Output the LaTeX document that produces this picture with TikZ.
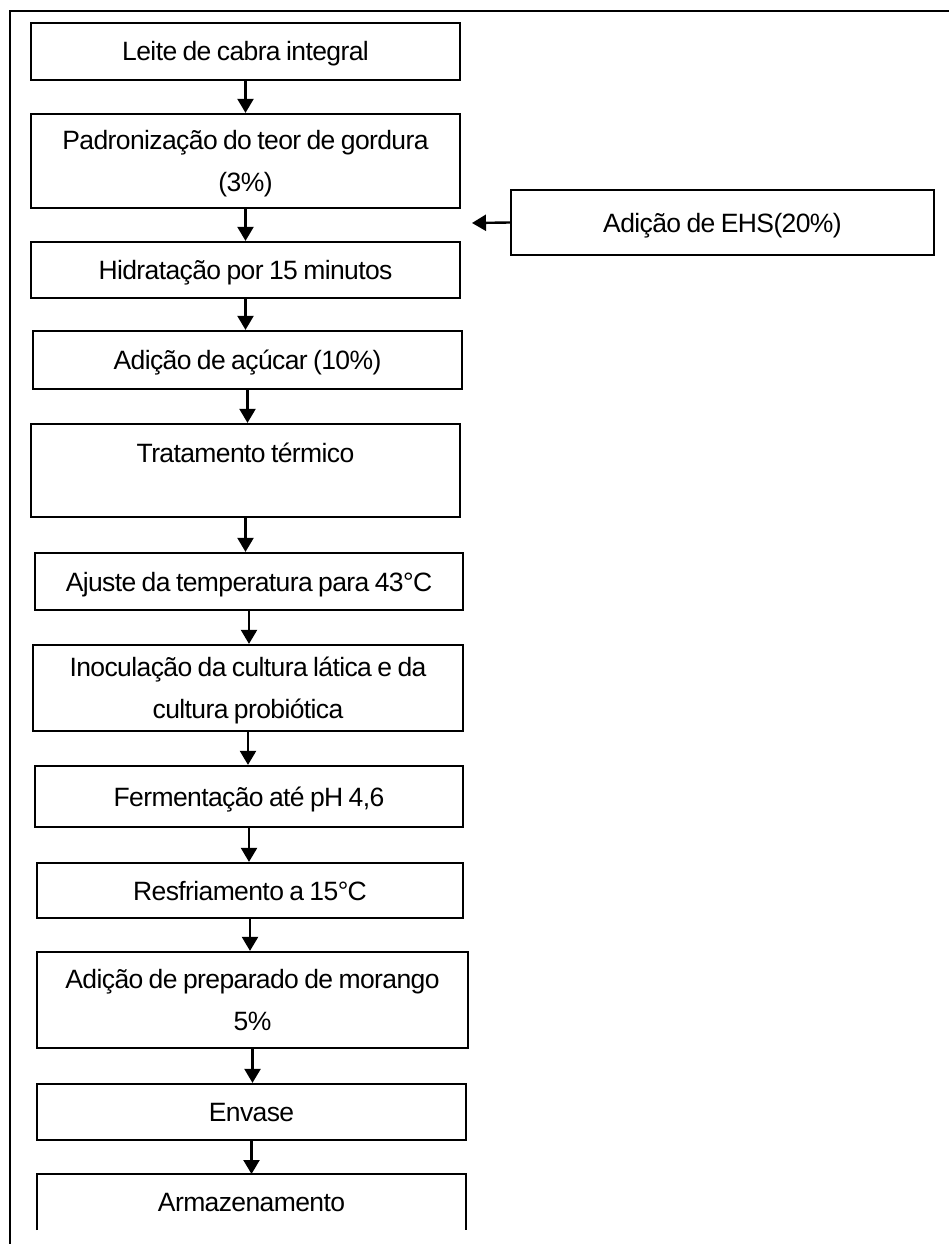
\documentclass[tikz,border=0pt]{standalone}
\usepackage{fontspec}
\setmainfont{Liberation Sans}[LetterSpace=-2.3,WordSpace=0.8]
\usetikzlibrary{arrows.meta,positioning}

\begin{document}
\begin{tikzpicture}[x=1pt,y=-1pt]
    \tikzstyle{etapa}=[rectangle,draw,line width=2.3pt,inner sep=0pt,text height=19pt,text depth=0pt,align=flush center,text width=400pt,font=\fontsize{26.5}{42}\selectfont]
    \tikzstyle{duas}=[etapa,text depth=42pt]
    \tikzstyle{seta}=[line width=2.4pt,-{Triangle[length=14pt,width=16pt]}]
    \useasboundingbox (0,0) rectangle (949,1244);
    \draw[line width=2.2pt] (10,1244) -- (10,11) -- (949,11);
    \node[etapa,minimum width=429pt,minimum height=57pt] (leite) at (245.5,51.5) {Leite de cabra integral};
    \node[duas,minimum width=429pt,minimum height=94pt] (padr) at (245.5,161) {Padronização do teor de gordura\\(3\%)};
    \node[etapa,minimum width=429pt,minimum height=56pt] (hidr) at (245.5,270) {Hidratação por 15 minutos};
    \node[etapa,minimum width=429pt,minimum height=58pt] (acucar) at (247.5,360) {Adição de açúcar (10\%)};
    \node[etapa,text depth=35pt,minimum width=429pt,minimum height=93pt] (trat) at (245.5,470.5) {Tratamento térmico};
    \node[etapa,minimum width=428pt,minimum height=57pt] (ajuste) at (249,581.5) {Ajuste da temperatura para 43°C};
    \node[duas,minimum width=430pt,minimum height=86pt] (inoc) at (248,688) {Inoculação da cultura lática e da\\cultura probiótica};
    \node[etapa,minimum width=428pt,minimum height=61pt] (ferm) at (249,796.5) {Fermentação até pH 4,6};
    \node[etapa,minimum width=426pt,minimum height=55pt] (resf) at (250,890.5) {Resfriamento a 15°C};
    \node[duas,minimum width=431pt,minimum height=96pt] (morango) at (252.5,1000) {Adição de preparado de morango\\5\%};
    \node[etapa,minimum width=429pt,minimum height=56pt] (envase) at (251.5,1112) {Envase};
    \node[etapa,draw=none,outer sep=0pt,minimum width=429pt,minimum height=56pt] (armaz) at (251.5,1202) {Armazenamento};
    \draw[line width=2.3pt] (armaz.south west) -- (armaz.north west) -- (armaz.north east) -- (armaz.south east);
    \node[etapa,minimum width=423pt,minimum height=65pt] (ehs) at (722.5,222.5) {Adição de EHS(20\%)};
    \coordinate (ehsfim) at (472,223);
    \draw[seta] (ehs.west) -- (ehsfim);
    \draw[seta] (leite.south) -- (leite.south |- padr.north);
    \draw[seta] (padr.south) -- (padr.south |- hidr.north);
    \draw[seta] (hidr.south) -- (hidr.south |- acucar.north);
    \draw[seta] (acucar.south) -- (acucar.south |- trat.north);
    \draw[seta] (trat.south) -- (trat.south |- ajuste.north);
    \draw[seta] (ajuste.south) -- (ajuste.south |- inoc.north);
    \draw[seta] (inoc.south) -- (inoc.south |- ferm.north);
    \draw[seta] (ferm.south) -- (ferm.south |- resf.north);
    \draw[seta] (resf.south) -- (resf.south |- morango.north);
    \draw[seta] (morango.south) -- (morango.south |- envase.north);
    \draw[seta] (envase.south) -- (envase.south |- armaz.north);
\end{tikzpicture}
\end{document}
